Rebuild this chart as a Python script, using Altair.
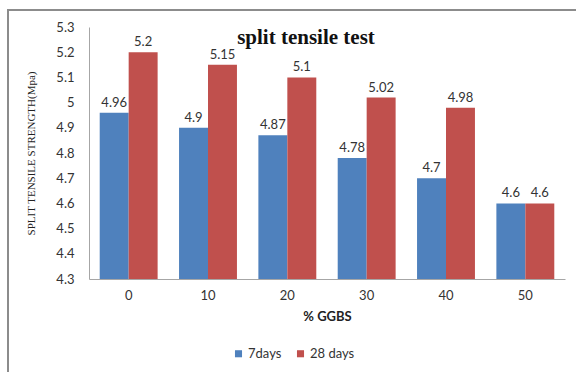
import altair as alt
import pandas as pd

ggbs = ["0", "10", "20", "30", "40", "50"]
days7 = [4.96, 4.90, 4.87, 4.78, 4.70, 4.60]
days28 = [5.20, 5.15, 5.10, 5.02, 4.98, 4.60]
series = ["7days", "28 days"]
colors = ["#4F81BD", "#C0504D"]
yticks = [4.3, 4.4, 4.5, 4.6, 4.7, 4.8, 4.9, 5.0, 5.1, 5.2, 5.3]
title_text = ["split tensile test"]

rows = []
for g, a, b in zip(ggbs, days7, days28):
    rows.append({"ggbs": g, "series": series[0], "value": a})
    rows.append({"ggbs": g, "series": series[1], "value": b})
df = pd.DataFrame(rows)

W, H = 476, 252

x = alt.X("ggbs:N", sort=ggbs, title="% GGBS",
          scale=alt.Scale(paddingInner=0.27, paddingOuter=0.135),
          axis=alt.Axis(labelAngle=0, ticks=False, domainColor="#a6a6a6",
                        labelFont="Lato", labelFontSize=13, labelColor="#333333",
                        labelPadding=10, titleFont="Lato", titleFontSize=13,
                        titleFontWeight="bold", titleColor="#222222", titlePadding=8))
y = alt.Y("value:Q", title="SPLIT TENSILE STRENGTH(Mpa)",
          scale=alt.Scale(domain=[4.3, 5.3], nice=False, zero=False),
          axis=alt.Axis(values=yticks,
                        format="~g", ticks=False, grid=False, domainColor="#a6a6a6",
                        labelOverlap=False,
                        labelFont="Lato", labelFontSize=13, labelColor="#333333",
                        labelPadding=15, titleFont="Liberation Serif", titleFontSize=11,
                        titleFontWeight="normal", titleColor="#222222", titlePadding=19))
color = alt.Color("series:N", sort=series,
                  scale=alt.Scale(domain=series, range=colors),
                  legend=alt.Legend(title=None, orient="none", direction="horizontal",
                                    legendX=143, legendY=320, symbolType="square",
                                    symbolSize=50, symbolStrokeWidth=0,
                                    labelFont="Lato", labelFontSize=13, labelColor="#333333",
                                    columnPadding=12, labelOffset=3))
xoff = alt.XOffset("series:N", sort=series)

base = alt.Chart(df)
bars = base.mark_bar(clip=True).encode(x=x, y=y, color=color, xOffset=xoff)
labels = base.mark_text(dy=-10, font="Lato", fontSize=13, color="#333333").encode(
    x=x, y=y, xOffset=xoff, text=alt.Text("value:Q", format="~g"))
border = base.mark_rect(fill=None, stroke="#8c8c8c", strokeWidth=1.5).encode(
    x=alt.value(-81), x2=alt.value(500), y=alt.value(-17), y2=alt.value(420))
title = alt.Chart(pd.DataFrame({"t": title_text})).mark_text(
    font="Liberation Serif", fontSize=21, fontWeight="bold", color="#111111",
    align="center", baseline="middle").encode(
    text="t:N", x=alt.value(217), y=alt.value(11))

chart = alt.layer(border, bars, labels, title).properties(
    width=W, height=H,
    autosize=alt.AutoSizeParams(type="none"),
    padding={"left": 89, "top": 27, "right": 11, "bottom": 93},
).configure_view(stroke=None)

chart.save("out.html", embed_options={"renderer": "svg", "actions": False})
